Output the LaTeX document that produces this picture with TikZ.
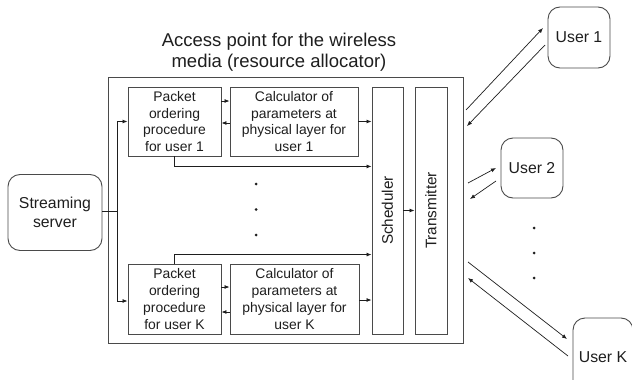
\documentclass[tikz,border=0pt]{standalone}
\usepackage{fontspec}
\setmainfont{Liberation Sans}
\usetikzlibrary{arrows.meta,calc}
\definecolor{edge}{HTML}{4A4A4A}
\definecolor{ink}{HTML}{1E1E1E}
\begin{document}
\begin{tikzpicture}[x=1pt,y=-1pt,
  blk/.style={draw=edge,line width=0.9pt,inner sep=0pt,align=center,text=ink,
    font=\fontsize{13.9}{16.7}\selectfont},
  rblk/.style={blk,rounded corners=12pt,font=\fontsize{15.8}{19}\selectfont},
  bar/.style={blk,font=\fontsize{15.3}{18}\selectfont},
  arr/.style={draw=ink,line width=0.8pt,-{Latex[length=5pt,width=4pt]}},
  ln/.style={draw=ink,line width=0.8pt},
  dot/.style={fill=ink}]
\useasboundingbox (0,0) rectangle (632,380);
\clip (0,0) rectangle (632,380);

% access point frame and its caption
\node[blk,minimum width=355pt,minimum height=266pt] (ap) at (285.5,210) {};
\node[text=ink,align=center,font=\fontsize{18.5}{20.5}\selectfont] (title) at (279,52)
  {Access point for the wireless\\media (resource allocator)};

% per-user processing chains
\node[blk,minimum width=93pt,minimum height=69pt] (p1) at (174.5,121.5)
  {Packet\\ordering\\procedure\\for user 1};
\node[blk,minimum width=128pt,minimum height=69pt] (c1) at (294,121.5)
  {Calculator of\\parameters at\\physical layer for\\user 1};
\node[blk,minimum width=93pt,minimum height=70pt] (pk) at (174.5,299)
  {Packet\\ordering\\procedure\\for user K};
\node[blk,minimum width=129pt,minimum height=70pt] (ck) at (294.5,299)
  {Calculator of\\parameters at\\physical layer for\\user K};

% scheduler and transmitter
\node[bar,minimum width=31pt,minimum height=247pt] (sch) at (387.5,210.5) {};
\node[rotate=90,text=ink,font=\fontsize{15.3}{18}\selectfont] at (sch.center) {Scheduler};
\node[bar,minimum width=32pt,minimum height=247pt] (tx) at (431,210.5) {};
\node[rotate=90,text=ink,font=\fontsize{15.3}{18}\selectfont] at (tx.center) {Transmitter};

% source and users
\node[rblk,minimum width=94pt,minimum height=76pt] (srv) at (55,212.5)
  {Streaming\\server};
\node[rblk,minimum width=62pt,minimum height=61pt] (u1) at (579,37.5) {User 1};
\node[rblk,minimum width=62pt,minimum height=60pt] (u2) at (532,168) {User 2};
\node[rblk,minimum width=60pt,minimum height=78pt] (uk) at (603,357) {User K};

% streaming server feeds both packet ordering blocks
\coordinate (split) at (117,211.5);
\draw[ln] (srv.east |- split) -- (split);
\draw[arr] (split) |- (p1.west);
\draw[arr] (split) |- ([yshift=-2pt]pk.west);

% chain for user 1
\draw[arr] ([yshift=20.5pt]p1.east) -- ([yshift=20.5pt]p1.east -| c1.west);
\draw[arr] ([yshift=-1.5pt]c1.west) -- ([yshift=-1.5pt]c1.west -| p1.east);
\draw[arr] (c1.east) -- (c1.east -| sch.west);
\draw[arr] (p1.south) -- ++(0,10) coordinate (t1) -- (t1 -| sch.west);

% chain for user K
\draw[arr] ([yshift=12pt]pk.east) -- ([yshift=12pt]pk.east -| ck.west);
\draw[arr] ([yshift=-13pt]ck.west) -- ([yshift=-13pt]ck.west -| pk.east);
\draw[arr] ([yshift=-1pt]ck.east) -- ([yshift=-1pt]ck.east -| sch.west);
\draw[arr] (pk.north) -- ++(0,-9) coordinate (tk) -- (tk -| sch.west);

\draw[arr] (sch.east) -- (tx.west);

% omitted users
\foreach \yy in {184,209.5,235} \fill[dot] (256,\yy) circle (1.5pt);
\foreach \yy in {228,253,278} \fill[dot] (534,\yy) circle (1.5pt);

% radio links between access point and users
\coordinate (a1o) at (466,110);  \coordinate (a1i) at (467,126);
\coordinate (u1i) at (543,28);   \coordinate (u1o) at (545,45);
\coordinate (a2o) at (468,183);  \coordinate (a2i) at (470,199);
\coordinate (u2i) at (496,168);  \coordinate (u2o) at (496,181);
\coordinate (ako) at (468,262);  \coordinate (aki) at (468,278);
\coordinate (uki) at (567,339);  \coordinate (uko) at (568,356);
\draw[arr,line width=0.7pt] (a1o) -- (u1i);
\draw[arr,line width=0.7pt] (u1o) -- (a1i);
\draw[arr,line width=0.7pt] (a2o) -- (u2i);
\draw[arr,line width=0.7pt] (u2o) -- (a2i);
\draw[arr,line width=0.7pt] (ako) -- (uki);
\draw[arr,line width=0.7pt] (uko) -- (aki);
\end{tikzpicture}
\end{document}
